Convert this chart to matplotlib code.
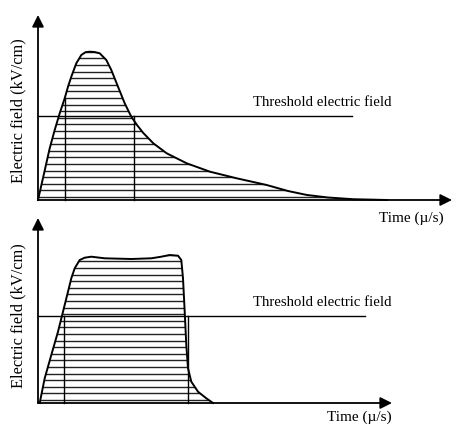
import matplotlib
matplotlib.use("Agg")
import matplotlib.pyplot as plt
import numpy as np

plt.rcParams['font.family'] = ['Liberation Serif', 'DejaVu Serif']

# 上段: 減衰型パルス (時間, 電界) 任意単位
top_t = [0, 5, 11.7, 16.7, 21.7, 26.7, 30, 33.3, 38.3, 43.3, 47.5, 51.7, 56.5,
         61.7, 68.3, 73.3, 80, 86.7, 93.3, 99, 105.3, 115.3, 128.7, 148.7, 172,
         198.7, 228.7, 250, 269, 290, 315, 349]
top_e = [0, 22, 51.7, 70, 86.7, 101.7, 113.3, 123.3, 136.7, 145, 147.8, 148.3,
         148, 146.7, 140, 130, 113.3, 96.7, 83.3, 75, 67, 56.7, 46.7, 36.7, 28.3,
         21.7, 15, 9, 5, 2.5, 0.8, 0]
top_thr = 84
top_thr_end = 314
top_marks = [(26.5, 101), (96, 84)]   # (時間, 縦線の高さ)

# 下段: 矩形パルス
bot_t = [1.7, 6.7, 13.3, 20, 25, 30, 33.3, 36.7, 41.7, 46.7, 53.3, 66.7, 93.3,
         113.3, 123.3, 131.7, 140, 143.3, 145, 146.7, 148.3, 150, 153.3, 160,
         168.3, 175]
bot_e = [0, 24.7, 48, 71.3, 91.3, 111.3, 124.7, 134.7, 143, 145.3, 146.3, 144.7,
         144, 144.7, 146.3, 148, 147.3, 143, 124.7, 91.3, 58, 34.7, 21.3, 11.3,
         4.7, 0]
bot_thr = 87
bot_thr_end = 327
bot_marks = [(26, 87), (149.5, 87)]

ylabel = "Electric field (kV/cm)"
xlabel = "Time (\u00b5/s)"
thr_label = "Threshold electric field"

fig = plt.figure(figsize=(4.55, 4.26), dpi=100)


def panel(ax, t, e, thr, thr_end, marks, x_end, y_end, xlab_pos, ylab_y):
    ax.set_xlim(-38, 417)
    ax.axis('off')
    # ハッチング（水平線）
    patch = ax.fill(t, e, facecolor='none', edgecolor='none')[0]
    levels = np.arange(3, max(e) + 5, 6.6)
    hl = ax.hlines(levels, 0, max(t), colors='#222222', lw=1.0)
    hl.set_clip_path(patch)
    ax.plot(t, e, color='k', lw=1.4, solid_joinstyle='round')
    # しきい値
    ax.plot([0, thr_end], [thr, thr], color='k', lw=1.0)
    ax.text(284, thr + 13, thr_label, fontsize=10.6, ha='center', va='center')
    for x, h in marks:
        ax.plot([x, x], [0, h], color='k', lw=1.0)
    # 軸の矢印
    ax.annotate('', xy=(x_end, 0), xytext=(0, 0),
                arrowprops=dict(arrowstyle='-|>,head_length=0.5,head_width=0.25',
                                lw=1.3, color='k', mutation_scale=14, shrinkA=0, shrinkB=0))
    ax.annotate('', xy=(0, y_end), xytext=(0, 0),
                arrowprops=dict(arrowstyle='-|>,head_length=0.5,head_width=0.25',
                                lw=1.3, color='k', mutation_scale=14, shrinkA=0, shrinkB=0))
    ax.text(xlab_pos[0], xlab_pos[1], xlabel, fontsize=11, ha='center', va='center')
    ax.text(-20, ylab_y, ylabel, fontsize=11.8, rotation=90, ha='center', va='center')


ax1 = fig.add_axes([0, 216 / 426, 1, 210 / 426])
ax1.set_ylim(-10, 200)
panel(ax1, top_t, top_e, top_thr, top_thr_end, top_marks, 414, 185, (373, -18), 89)

ax2 = fig.add_axes([0, 0, 1, 216 / 426])
ax2.set_ylim(-23, 193)
panel(ax2, bot_t, bot_e, bot_thr, bot_thr_end, bot_marks, 354, 185, (321, -14), 87)

fig.savefig("out.png", dpi=100)
